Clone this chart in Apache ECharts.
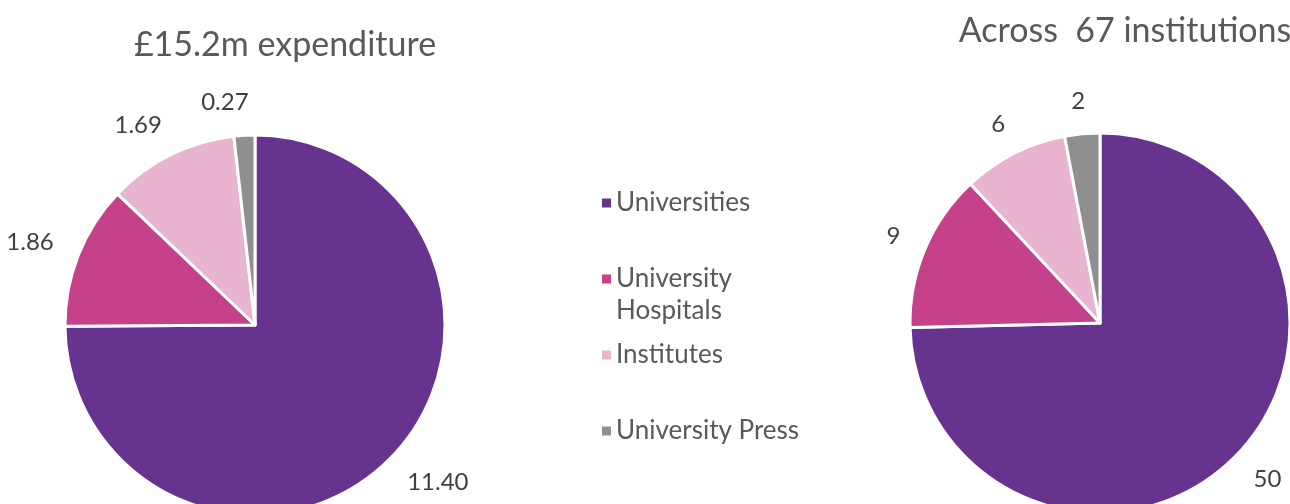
<!DOCTYPE html>
<html>
<head>
<meta charset="utf-8">
<style>
  html, body { margin: 0; padding: 0; background: #ffffff; }
  #chart { width: 1290px; height: 504px; }
</style>
<script src="https://cdn.jsdelivr.net/npm/echarts@6/dist/echarts.min.js"></script>
</head>
<body>
<div id="chart"></div>
<script>
// Funding breakdown by institution type
const categories = ['Universities', 'University Hospitals', 'Institutes', 'University Press'];
const legendLabels = ['Universities', 'University\nHospitals', 'Institutes', 'University Press'];
const expenditure = [11.40, 1.86, 1.69, 0.27];   // £m
const institutions = [50, 9, 6, 2];
const titles = ['£15.2m expenditure', 'Across  67 institutions'];
const palette = ['#66338f', '#c5418a', '#e8b4d0', '#8f8f8f'];

const FONT = 'Lato, "Open Sans", sans-serif';

const chart = echarts.init(document.getElementById('chart'), null, { renderer: 'canvas' });

function pieSeries(values, center, decimals) {
  return {
    type: 'pie',
    center: center,
    radius: 190,
    startAngle: 90,
    clockwise: true,
    animation: false,
    silent: true,
    avoidLabelOverlap: false,
    itemStyle: { borderColor: '#ffffff', borderWidth: 3 },
    label: {
      show: true,
      position: 'outside',
      color: '#404040',
      fontFamily: FONT,
      fontSize: 24,
      distanceToLabelLine: -6,
      formatter: p => p.value.toFixed(decimals)
    },
    labelLine: { show: false, length: 33, length2: 0 },
    data: categories.map((name, i) => ({ name: name, value: values[i] }))
  };
}

// Square marker; the two-line entry uses a taller box so the square sits beside its first line
const SQUARE = 'rect';
const SQUARE_TOP = 'path://M0,0 L9,0 L9,9 L0,9 Z M0,41 L9,41';

// One legend block per entry so each sits on its own row
const legendTops = [182, 258, 334, 410];
const legends = categories.map((name, i) => ({
  orient: 'vertical',
  left: 597,
  top: legendTops[i],
  data: [name],
  icon: i === 1 ? SQUARE_TOP : SQUARE,
  itemWidth: 9,
  itemHeight: i === 1 ? 41 : 9,
  itemGap: 0,
  itemStyle: { borderWidth: 0 },
  selectedMode: false,
  formatter: () => legendLabels[i],
  textStyle: {
    color: '#595959',
    fontFamily: FONT,
    fontSize: 26,
    lineHeight: 32,
    padding: [0, 0, 0, 0]
  }
}));

chart.setOption({
  backgroundColor: '#ffffff',
  color: palette,
  animation: false,
  title: [
    {
      text: titles[0], left: 280, top: 23, textAlign: 'center',
      textStyle: { color: '#595959', fontFamily: FONT, fontSize: 34, fontWeight: 'normal' }
    },
    {
      text: titles[1], left: 1120, top: 9, textAlign: 'center',
      textStyle: { color: '#595959', fontFamily: FONT, fontSize: 34, fontWeight: 'normal' }
    }
  ],
  legend: legends,
  series: [
    pieSeries(expenditure, [255, 325], 2),
    pieSeries(institutions, [1100, 323], 0)
  ]
});
</script>
</body>
</html>
